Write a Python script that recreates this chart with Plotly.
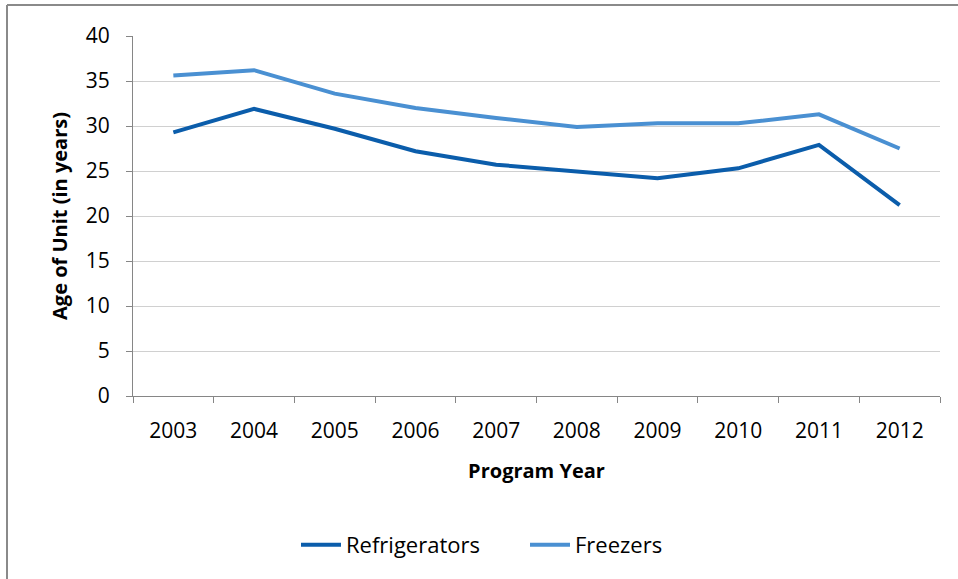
import plotly.graph_objects as go

# Program years and average unit age (years) per appliance type
years = ["2003", "2004", "2005", "2006", "2007", "2008", "2009", "2010", "2011", "2012"]
refrigerators = [29.3, 31.9, 29.7, 27.2, 25.7, 24.9, 24.2, 25.3, 27.9, 21.2]
freezers = [35.6, 36.2, 33.6, 32.0, 30.9, 29.9, 30.3, 30.3, 31.3, 27.5]
y_ticks = [0, 5, 10, 15, 20, 25, 30, 35, 40]

FONT = "Open Sans, Noto Sans, sans-serif"
W, H = 958, 579
L, R, T, B = 133, 18, 36, 183

fig = go.Figure()
fig.add_trace(go.Scatter(x=years, y=refrigerators, mode="lines", name="Refrigerators",
                         line=dict(color="#0B5DAB", width=4)))
fig.add_trace(go.Scatter(x=years, y=freezers, mode="lines", name="Freezers",
                         line=dict(color="#4A90D2", width=4)))

# outer frame: top and left edges of the chart box
pw, ph = W - L - R, H - T - B
fx = (7 - L) / pw
fy = 1 + (T - 5) / ph
fig.add_shape(type="line", xref="paper", yref="paper", x0=fx, x1=(W - L) / pw + 0.01,
              y0=fy, y1=fy, line=dict(color="#8A8A8A", width=2))
fig.add_shape(type="line", xref="paper", yref="paper", x0=fx, x1=fx,
              y0=fy, y1=-(B + 5) / ph, line=dict(color="#8A8A8A", width=2))

fig.update_layout(
    width=W, height=H,
    margin=dict(l=L, r=R, t=T, b=B, autoexpand=False),
    paper_bgcolor="white", plot_bgcolor="white",
    font=dict(family=FONT, color="#000000"),
    showlegend=True,
    legend=dict(orientation="h", x=(296 - L) / pw, xanchor="left", y=-0.414, yanchor="middle",
                font=dict(size=22, family=FONT), itemwidth=40, entrywidth=174,
                entrywidthmode="pixels", traceorder="normal"),
    xaxis=dict(
        type="category", range=[-0.5, len(years) - 0.5], tickson="boundaries",
        ticks="outside", ticklen=6,
        tickcolor="#868686", showline=True, linecolor="#868686", linewidth=1,
        showgrid=False, tickfont=dict(size=21, family=FONT), ticklabelstandoff=16,
        title=dict(text="<b>Program Year</b>", font=dict(size=20, family=FONT), standoff=20),
    ),
    yaxis=dict(
        range=[0, 40], tickvals=y_ticks, ticks="outside", ticklen=6,
        tickcolor="#868686", showline=True, linecolor="#868686", linewidth=1,
        showgrid=True, gridcolor="#D0D0D0", gridwidth=1, zeroline=False,
        tickfont=dict(size=21, family=FONT), ticklabelstandoff=12,
        title=dict(text="<b>Age of Unit (in years)</b>", font=dict(size=20, family=FONT), standoff=12),
    ),
)

fig.write_html("out.html")
